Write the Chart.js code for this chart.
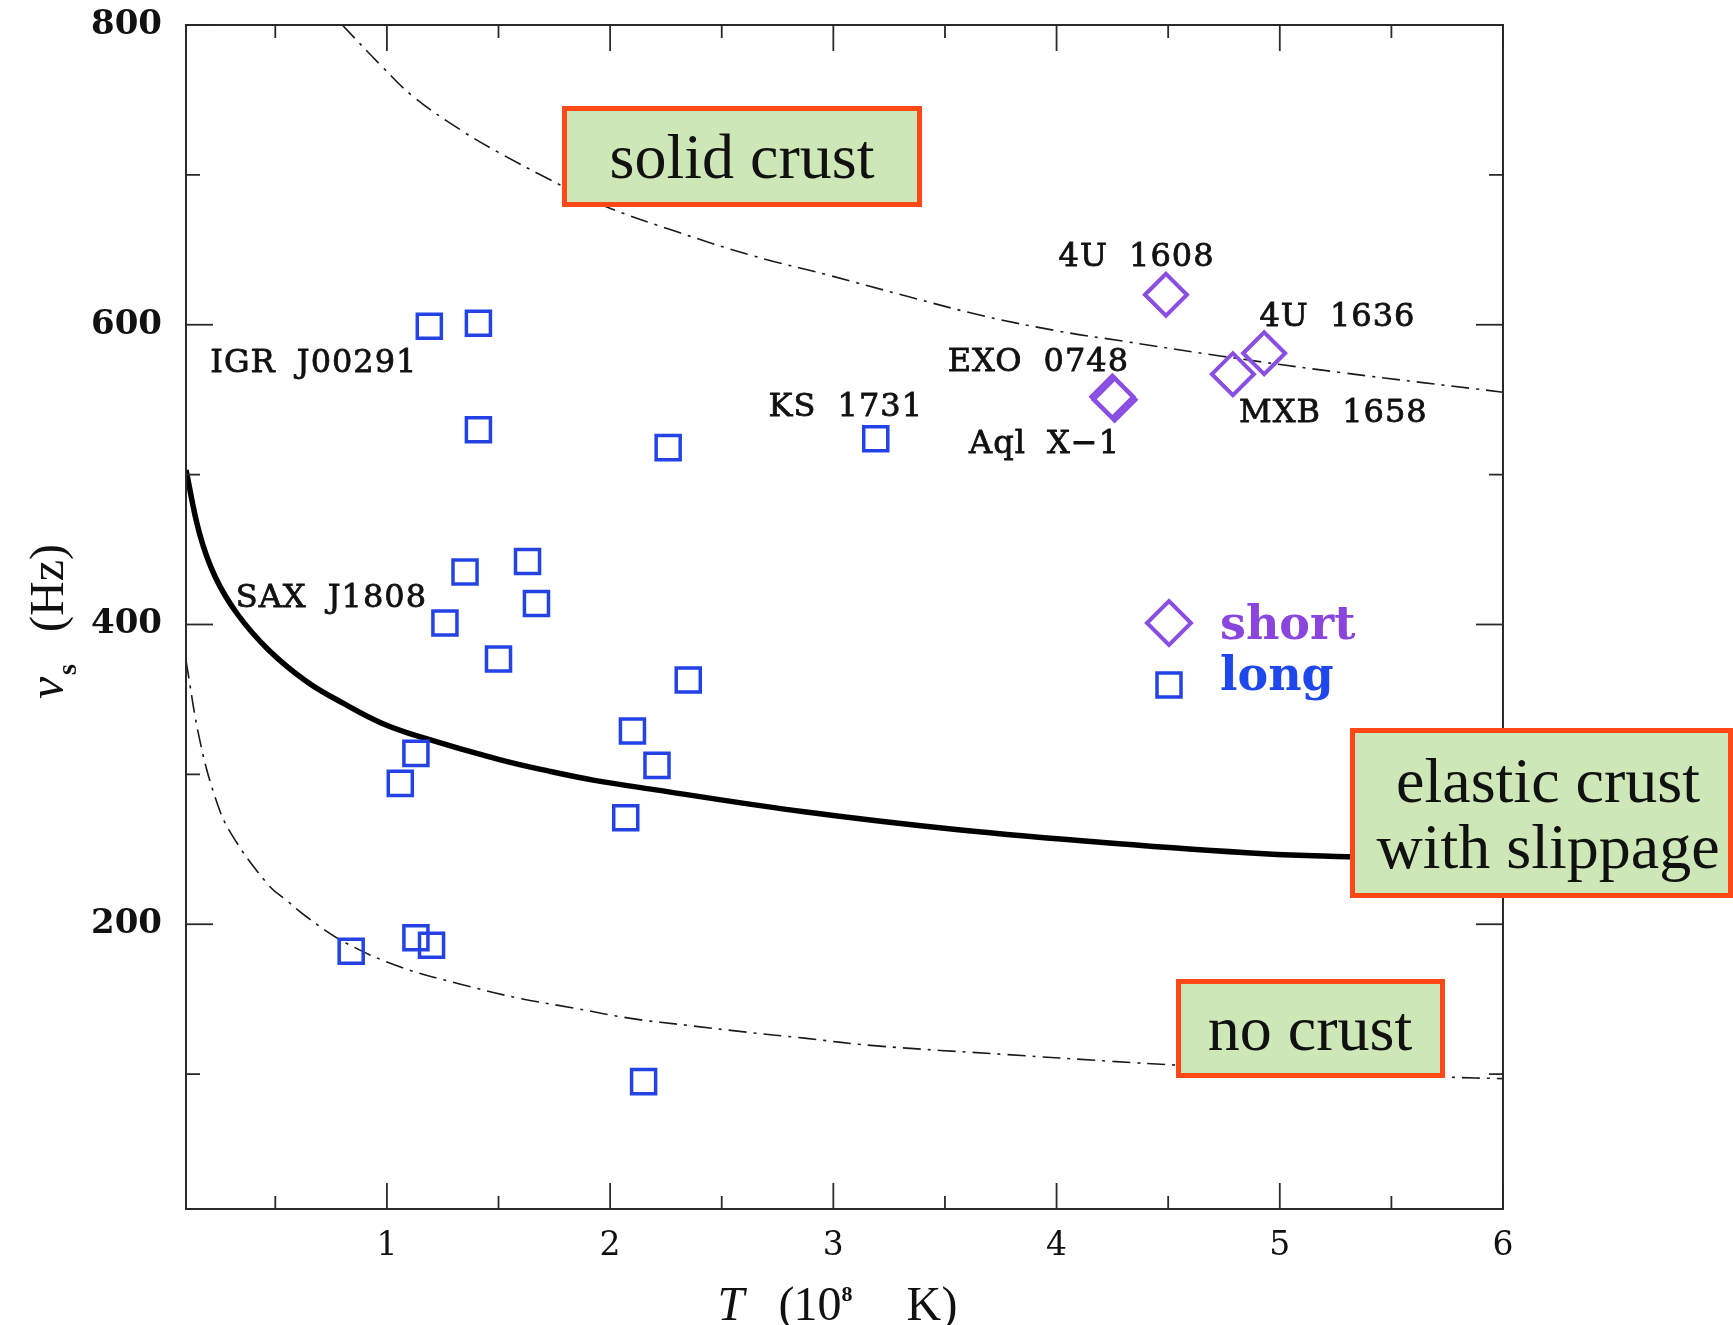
<!DOCTYPE html>
<html>
<head>
<meta charset="utf-8">
<script src="https://cdn.jsdelivr.net/npm/chart.js@4.4.1/dist/chart.umd.min.js"></script>
<style>
  html, body { margin: 0; padding: 0; background: #ffffff; }
  #wrap { width: 1733px; height: 1325px; position: relative; }
</style>
</head>
<body>
<div id="wrap"><canvas id="chart"></canvas></div>
<script>
// Burst-oscillation sources: core temperature T (10^8 K) against spin frequency (Hz)
const longT   = [1.19, 1.41, 1.41, 2.26, 3.19, 1.35, 1.63, 1.67, 1.26, 1.50, 2.35, 2.10, 2.21, 1.13, 1.06, 2.07, 0.84, 1.13, 1.20, 2.15];
const longNu  = [599, 601, 530, 518, 524, 435, 442, 414, 401, 377, 363, 329, 306, 314, 294, 271, 182, 191, 186, 95];
const shortT  = [4.49, 4.25, 4.26, 4.79, 4.93];
const shortNu = [620, 552, 550, 567, 581];

// Instability curves
const solidT  = [0.80, 0.98, 1.12, 1.33, 1.50, 1.78, 1.96, 2.30, 2.64, 2.98, 3.33, 3.67, 4.00, 4.30, 4.74, 5.28, 6.00];
const solidNu = [800, 772, 752, 730, 715, 693, 680, 662, 646, 633, 619, 606, 596, 589, 579, 568, 555];
const slipT   = [0.10, 0.16, 0.23, 0.33, 0.47, 0.64, 0.81, 0.98, 1.15, 1.50, 1.73, 1.93, 2.19, 2.87, 3.56, 4.25, 4.93, 5.30, 6.00];
const slipNu  = [503, 461, 432, 407, 383, 362, 347, 334, 325, 310, 302, 296, 290, 275, 263, 254, 247, 245, 242];
const fluidT  = [0.10, 0.16, 0.23, 0.30, 0.47, 0.55, 0.64, 0.81, 1.07, 1.33, 1.58, 1.84, 2.10, 2.35, 2.61, 2.87, 3.18, 3.78, 4.25, 4.54, 5.75, 6.00];
const fluidNu = [376, 324, 285, 261, 226, 216, 205, 188, 171, 160, 151, 144, 137, 132.5, 128, 124, 119, 113, 108.5, 106, 98, 97];

// Axis ticks
const xTickValues = [0.5, 1, 1.5, 2, 2.5, 3, 3.5, 4, 4.5, 5, 5.5, 6];
const xTickLabels = [1, 2, 3, 4, 5, 6];
const yTickValues = [100, 200, 300, 400, 500, 600, 700, 800];
const yTickLabels = [200, 400, 600, 800];

// Source names and the (T, nu) point each name starts at
const sourceNames  = ['IGR J00291', 'SAX J1808', 'KS 1731', 'EXO 0748', 'Aql X\u22121', '4U 1608', '4U 1636', 'MXB 1658'];
const nameAnchorT  = [0.209, 0.323, 2.71, 3.512, 3.608, 4.009, 4.909, 4.817];
const nameAnchorNu = [568.7, 412, 539.3, 569.3, 514.7, 639.3, 599.3, 534.9];

const zip = (xs, ys) => xs.map((v, i) => ({ x: v, y: ys[i] }));

const BLUE = '#2443e6';
const PURPLE = '#8a4fe2';

// Region callouts (canvas pixels)
const callouts = [
  { lines: ['solid crust'], x0: 562, y0: 106, x1: 922, y1: 207, cx: 742, base: [178] },
  { lines: ['elastic crust', 'with slippage'], x0: 1350, y0: 728, x1: 1733, y1: 898, cx: 1548, base: [802, 868] },
  { lines: ['no crust'], x0: 1176, y0: 979, x1: 1445, y1: 1078, cx: 1310, base: [1050] }
];

const decorations = {
  id: 'decorations',
  afterDatasetsDraw(chart) {
    const { ctx, chartArea: a, scales: { x, y } } = chart;
    ctx.save();

    // frame
    ctx.strokeStyle = '#2a2a2a';
    ctx.lineWidth = 2;
    ctx.strokeRect(a.left, a.top, a.right - a.left, a.bottom - a.top);

    // inward ticks on all four sides
    const seg = (x0, y0, x1, y1) => { ctx.beginPath(); ctx.moveTo(x0, y0); ctx.lineTo(x1, y1); ctx.stroke(); };
    ctx.lineWidth = 1.8;
    xTickValues.forEach(v => {
      const px = x.getPixelForValue(v);
      const len = Number.isInteger(v) ? 26 : 13;
      seg(px, a.bottom, px, a.bottom - len);
      seg(px, a.top, px, a.top + len);
    });
    yTickValues.forEach(v => {
      const py = y.getPixelForValue(v);
      const len = v % 200 === 0 ? 27 : 14;
      seg(a.left, py, a.left + len, py);
      seg(a.right, py, a.right - len, py);
    });

    // source names
    ctx.fillStyle = '#111';
    ctx.strokeStyle = '#111';
    ctx.lineWidth = 0.8;
    ctx.font = '32px "DejaVu Serif"';
    ctx.letterSpacing = '1px';
    ctx.wordSpacing = '10px';
    ctx.textAlign = 'left';
    ctx.textBaseline = 'alphabetic';
    sourceNames.forEach((s, i) => {
      const px = x.getPixelForValue(nameAnchorT[i]);
      const py = y.getPixelForValue(nameAnchorNu[i]);
      ctx.fillText(s, px, py);
      ctx.strokeText(s, px, py);
    });
    ctx.letterSpacing = '0px';
    ctx.wordSpacing = '0px';

    // legend
    ctx.strokeStyle = PURPLE;
    ctx.lineWidth = 4;
    ctx.beginPath();
    ctx.moveTo(1147, 623); ctx.lineTo(1169, 601); ctx.lineTo(1191, 623); ctx.lineTo(1169, 645); ctx.closePath();
    ctx.stroke();
    ctx.strokeStyle = BLUE;
    ctx.lineWidth = 3.5;
    ctx.strokeRect(1157, 673, 24, 24);
    ctx.font = 'bold 46px "DejaVu Serif"';
    ctx.fillStyle = '#8a45dd';
    ctx.fillText('short', 1220, 639);
    ctx.fillStyle = '#1f48ec';
    ctx.fillText('long', 1220, 690);

    // axis titles
    ctx.fillStyle = '#111';
    const cx = (a.left + a.right) / 2;
    const bx = 1320;
    ctx.font = 'italic 48px "Liberation Serif"';
    ctx.fillText('T', cx - 127, bx);
    ctx.font = '48px "Liberation Serif"';
    ctx.fillText('(', cx - 66, bx);
    ctx.fillText('10', cx - 51, bx);
    ctx.font = 'bold 22px "Liberation Serif"';
    ctx.fillText('8', cx - 3, bx - 19);
    ctx.font = '48px "Liberation Serif"';
    ctx.fillText('K', cx + 62, bx);
    ctx.fillText(')', cx + 97, bx);

    const cy = (a.top + a.bottom) / 2;
    ctx.save();
    ctx.translate(63, cy);
    ctx.rotate(-Math.PI / 2);
    ctx.font = 'italic 50px "Liberation Serif"';
    ctx.fillText('\u03BD', -82, 0);
    ctx.font = 'bold 28px "Liberation Serif"';
    ctx.fillText('s', -58, 13);
    ctx.font = '48px "Liberation Serif"';
    ctx.fillText('(Hz)', -15, 0);
    ctx.restore();

    // callouts
    callouts.forEach(b => {
      ctx.fillStyle = '#cde7b6';
      ctx.fillRect(b.x0, b.y0, b.x1 - b.x0, b.y1 - b.y0);
      ctx.strokeStyle = '#ff4718';
      ctx.lineWidth = 5;
      ctx.strokeRect(b.x0 + 2.5, b.y0 + 2.5, b.x1 - b.x0 - 5, b.y1 - b.y0 - 5);
      ctx.fillStyle = '#111';
      ctx.font = '64px "Liberation Serif"';
      ctx.textAlign = 'center';
      b.lines.forEach((t, i) => ctx.fillText(t, b.cx, b.base[i]));
      ctx.textAlign = 'left';
    });

    ctx.restore();
  }
};

new Chart(document.getElementById('chart'), {
  type: 'scatter',
  data: {
    datasets: [
      { label: 'short', data: zip(shortT, shortNu), pointStyle: 'rectRot', pointRadius: 21,
        borderColor: PURPLE, backgroundColor: 'rgba(0,0,0,0)', borderWidth: 4, showLine: false, order: 0 },
      { label: 'long', data: zip(longT, longNu), pointStyle: 'rect', pointRadius: 17,
        borderColor: BLUE, backgroundColor: 'rgba(0,0,0,0)', borderWidth: 3.5, showLine: false, order: 0 },
      { label: 'solid crust', data: zip(solidT, solidNu), showLine: true, pointRadius: 0, tension: 0.4,
        borderColor: '#1a1a1a', borderWidth: 1.6, borderDash: [18, 7, 3, 7], order: 2 },
      { label: 'elastic crust with slippage', data: zip(slipT, slipNu), showLine: true, pointRadius: 0, tension: 0.4,
        borderColor: '#000', borderWidth: 5.5, order: 2 },
      { label: 'no crust', data: zip(fluidT, fluidNu), showLine: true, pointRadius: 0, tension: 0.4,
        borderColor: '#1a1a1a', borderWidth: 1.6, borderDash: [18, 7, 3, 7], order: 2 }
    ]
  },
  options: {
    responsive: true,
    maintainAspectRatio: false,
    animation: false,
    events: [],
    layout: { padding: { top: 24, right: 230, bottom: 0, left: 0 } },
    plugins: { legend: { display: false }, tooltip: { enabled: false } },
    scales: {
      x: {
        type: 'linear', min: 0.1, max: 6,
        afterBuildTicks: s => { s.ticks = xTickValues.map(v => ({ value: v })); },
        afterFit: s => { s.height = 116; s.paddingLeft = 0; s.paddingRight = 0; },
        grid: { display: false, drawTicks: false },
        border: { display: false },
        ticks: {
          autoSkip: false, maxRotation: 0, padding: 18, color: '#111',
          font: { family: 'DejaVu Serif', size: 33 },
          callback: v => xTickLabels.includes(v) ? String(v) : ''
        }
      },
      y: {
        type: 'linear', min: 10, max: 800,
        afterBuildTicks: s => { s.ticks = yTickValues.map(v => ({ value: v })); },
        afterFit: s => { s.width = 186; s.paddingTop = 0; s.paddingBottom = 0; },
        grid: { display: false, drawTicks: false },
        border: { display: false },
        ticks: {
          autoSkip: false, padding: 24, color: '#111',
          font: { family: 'DejaVu Serif', size: 34, weight: 'bold' },
          callback: v => yTickLabels.includes(v) ? String(v) : ''
        }
      }
    }
  },
  plugins: [decorations]
});
</script>
</body>
</html>
